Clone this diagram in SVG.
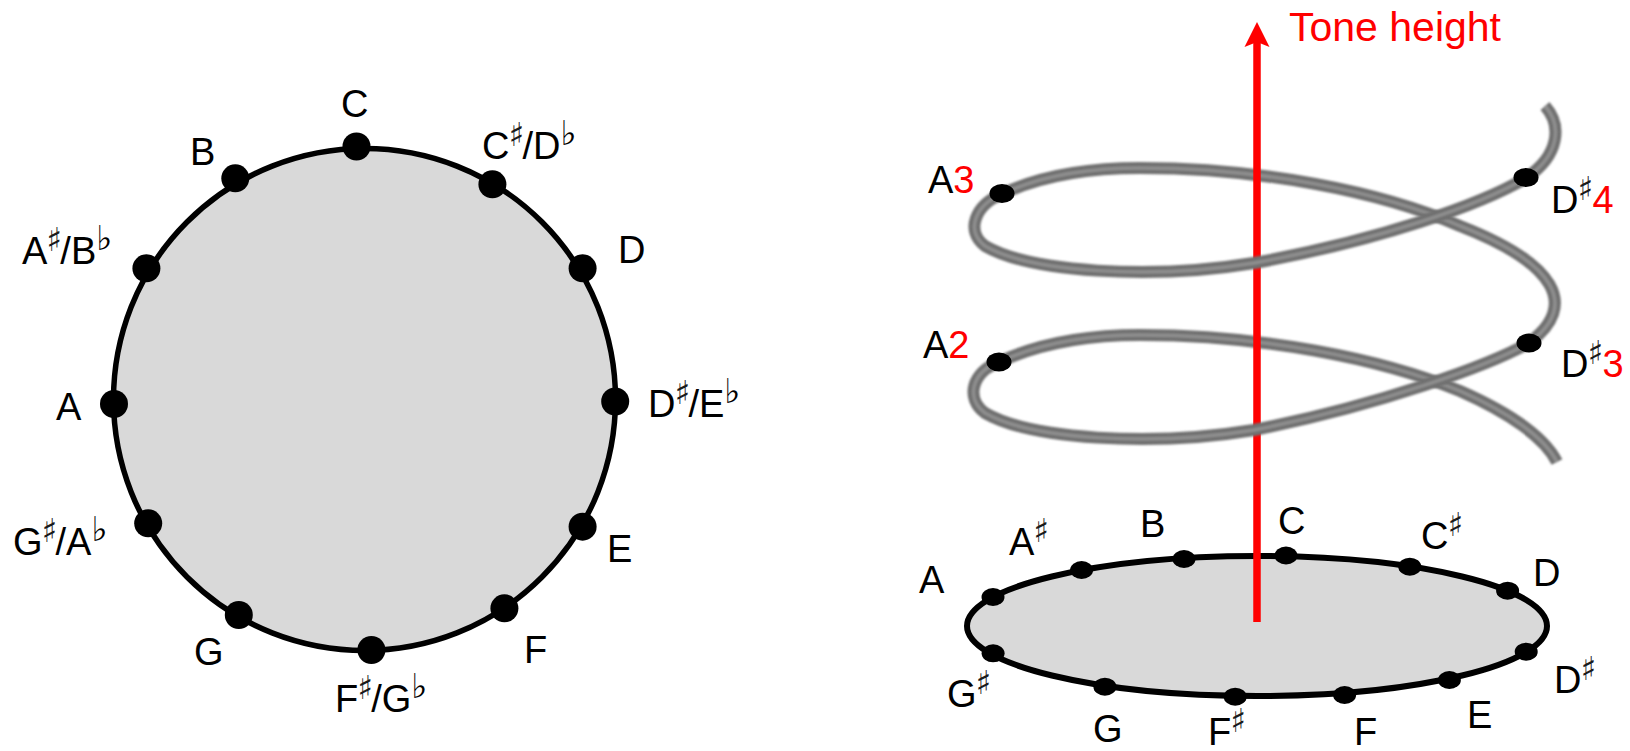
<svg xmlns="http://www.w3.org/2000/svg" width="1630" height="751" viewBox="0 0 1630 751">
<defs>
<style>
.lbl{font-family:"Liberation Sans",Arial,sans-serif;font-size:38px;fill:#000}
.sh{font-family:"DejaVu Sans",sans-serif;font-size:33px;fill:#1a1a1a}
.fl{font-family:"DejaVu Sans",sans-serif;font-size:34px}
.red{fill:#ff0000}
.dot{fill:#000}
.ring{fill:#d9d9d9;stroke:#000;stroke-width:5.5}
.tube{fill:none;stroke:#707070;stroke-width:12;stroke-linecap:butt}
.tubehi{fill:none;stroke:#8f8f8f;stroke-width:3.5;stroke-linecap:butt}
</style>
<filter id="soft" x="-5%" y="-5%" width="110%" height="110%"><feGaussianBlur stdDeviation="0.9"/></filter>
</defs>
<rect width="1630" height="751" fill="#fff"/>

<!-- Left pitch class circle -->
<g id="pitch-circle">
<circle class="ring" cx="364.5" cy="399.5" r="251"/>
</g>
<g id="note-C"><circle class="dot" cx="356.5" cy="146.5" r="14"/><text class="lbl" x="341" y="117">C</text></g>
<g id="note-Cs"><circle class="dot" cx="492.4" cy="184.3" r="14"/><text class="lbl" x="482" y="159">C<tspan class="sh" dx="-1" dy="-13">♯</tspan><tspan dx="-2" dy="13">/D</tspan><tspan class="fl" dy="-14">♭</tspan></text></g>
<g id="note-D"><circle class="dot" cx="582.6" cy="268.3" r="14"/><text class="lbl" x="618" y="263">D</text></g>
<g id="note-Ds"><circle class="dot" cx="615.2" cy="401.5" r="14"/><text class="lbl" x="648" y="417">D<tspan class="sh" dx="-1" dy="-13">♯</tspan><tspan dx="-2" dy="13">/E</tspan><tspan class="fl" dy="-14">♭</tspan></text></g>
<g id="note-E"><circle class="dot" cx="582.6" cy="526.7" r="14"/><text class="lbl" x="607" y="562">E</text></g>
<g id="note-F"><circle class="dot" cx="504.4" cy="608.3" r="14"/><text class="lbl" x="524" y="663">F</text></g>
<g id="note-Fs"><circle class="dot" cx="371.4" cy="650" r="14"/><text class="lbl" x="335" y="712">F<tspan class="sh" dx="-1" dy="-13">♯</tspan><tspan dx="-2" dy="13">/G</tspan><tspan class="fl" dy="-14">♭</tspan></text></g>
<g id="note-G"><circle class="dot" cx="238.8" cy="615" r="14"/><text class="lbl" x="194" y="665">G</text></g>
<g id="note-Gs"><circle class="dot" cx="148.2" cy="523.3" r="14"/><text class="lbl" x="13" y="555">G<tspan class="sh" dx="-1" dy="-13">♯</tspan><tspan dx="-2" dy="13">/A</tspan><tspan class="fl" dy="-14">♭</tspan></text></g>
<g id="note-A"><circle class="dot" cx="114" cy="404" r="14"/><text class="lbl" x="56" y="420">A</text></g>
<g id="note-As"><circle class="dot" cx="146.4" cy="268.3" r="14"/><text class="lbl" x="22" y="264">A<tspan class="sh" dx="-1" dy="-13">♯</tspan><tspan dx="-2" dy="13">/B</tspan><tspan class="fl" dy="-14">♭</tspan></text></g>
<g id="note-B"><circle class="dot" cx="235.3" cy="178.3" r="14"/><text class="lbl" x="190" y="165">B</text></g>

<!-- Right: chroma ellipse -->
<g id="chroma-ellipse">
<ellipse cx="1257" cy="626" rx="290" ry="70" fill="#d9d9d9" stroke="#000" stroke-width="6"/>
</g>
<g id="e-A"><ellipse class="dot" cx="993" cy="597" rx="11.5" ry="9"/><text class="lbl" x="919" y="593">A</text></g>
<g id="e-As"><ellipse class="dot" cx="1081.6" cy="570" rx="11.5" ry="9"/><text class="lbl" x="1009" y="555">A<tspan class="sh" dx="-1" dy="-13">♯</tspan></text></g>
<g id="e-B"><ellipse class="dot" cx="1184" cy="559" rx="11.5" ry="9"/><text class="lbl" x="1140" y="537">B</text></g>
<g id="e-C"><ellipse class="dot" cx="1286" cy="555.5" rx="11.5" ry="9"/><text class="lbl" x="1278" y="534">C</text></g>
<g id="e-Cs"><ellipse class="dot" cx="1409.8" cy="566.7" rx="11.5" ry="9"/><text class="lbl" x="1421" y="549">C<tspan class="sh" dx="-1" dy="-13">♯</tspan></text></g>
<g id="e-D"><ellipse class="dot" cx="1507.6" cy="590.7" rx="11.5" ry="9"/><text class="lbl" x="1533" y="586">D</text></g>
<g id="e-Ds"><ellipse class="dot" cx="1526.2" cy="651.7" rx="11.5" ry="9"/><text class="lbl" x="1554" y="693">D<tspan class="sh" dx="-1" dy="-13">♯</tspan></text></g>
<g id="e-E"><ellipse class="dot" cx="1449.4" cy="680" rx="11.5" ry="9"/><text class="lbl" x="1467" y="728">E</text></g>
<g id="e-F"><ellipse class="dot" cx="1344.6" cy="695" rx="11.5" ry="9"/><text class="lbl" x="1354" y="745">F</text></g>
<g id="e-Fs"><ellipse class="dot" cx="1235.2" cy="696.7" rx="11.5" ry="9"/><text class="lbl" x="1208" y="745">F<tspan class="sh" dx="-1" dy="-13">♯</tspan></text></g>
<g id="e-G"><ellipse class="dot" cx="1104.9" cy="686.7" rx="11.5" ry="9"/><text class="lbl" x="1093" y="742">G</text></g>
<g id="e-Gs"><ellipse class="dot" cx="993.1" cy="653.3" rx="11.5" ry="9"/><text class="lbl" x="947" y="707">G<tspan class="sh" dx="-1" dy="-13">♯</tspan></text></g>

<!-- Helix back arcs -->
<g id="helix-back" filter="url(#soft)">
<path class="tube" d="M1002,194 C1040,176 1090,168 1140,168 C1260,168 1380,191 1460,226 C1555,263 1580,305 1529,343"/>
<path class="tubehi" d="M1002,194 C1040,176 1090,168 1140,168 C1260,168 1380,191 1460,226 C1555,263 1580,305 1529,343"/>
<path class="tube" d="M999,362 C1040,343 1090,335 1140,335 C1260,335 1380,358 1460,391 C1510,413 1545,438 1557,462"/>
<path class="tubehi" d="M999,362 C1040,343 1090,335 1140,335 C1260,335 1380,358 1460,391 C1510,413 1545,438 1557,462"/>
</g>

<!-- Tone height arrow -->
<g id="connectors">
<line x1="1257" y1="622" x2="1257" y2="40" stroke="#ff0000" stroke-width="7.5"/>
<polygon points="1257,22 1269.5,47 1257,42 1244.5,47" fill="#ff0000"/>
</g>
<g id="tone-height-label"><text class="lbl red" x="1289" y="41" style="font-size:41px">Tone height</text></g>

<!-- Helix front arcs -->
<g id="helix-front" filter="url(#soft)">
<path class="tube" d="M1545,106 C1562,125 1560,155 1526,178 C1480,205 1380,240 1254,263 C1150,280 1030,272 985,246 C965,231 975,205 1002,194"/>
<path class="tubehi" d="M1545,106 C1562,125 1560,155 1526,178 C1480,205 1380,240 1254,263 C1150,280 1030,272 985,246 C965,231 975,205 1002,194"/>
<path class="tube" d="M1529,343 C1490,365 1380,405 1254,430 C1150,447 1030,439 985,413 C965,398 972,372 999,362"/>
<path class="tubehi" d="M1529,343 C1490,365 1380,405 1254,430 C1150,447 1030,439 985,413 C965,398 972,372 999,362"/>
</g>

<g id="h-A3"><ellipse class="dot" cx="1002" cy="193.5" rx="12.5" ry="9.5"/><text class="lbl" x="928" y="193">A<tspan class="red">3</tspan></text></g>
<g id="h-Ds4"><ellipse class="dot" cx="1526" cy="177.5" rx="12.5" ry="9.5"/><text class="lbl" x="1551" y="213">D<tspan class="sh" dx="-1" dy="-13">♯</tspan><tspan class="red" dx="-1" dy="13">4</tspan></text></g>
<g id="h-A2"><ellipse class="dot" cx="999" cy="362" rx="12.5" ry="9.5"/><text class="lbl" x="923" y="358">A<tspan class="red">2</tspan></text></g>
<g id="h-Ds3"><ellipse class="dot" cx="1529" cy="343" rx="12.5" ry="9.5"/><text class="lbl" x="1561" y="377">D<tspan class="sh" dx="-1" dy="-13">♯</tspan><tspan class="red" dx="-1" dy="13">3</tspan></text></g>
</svg>
